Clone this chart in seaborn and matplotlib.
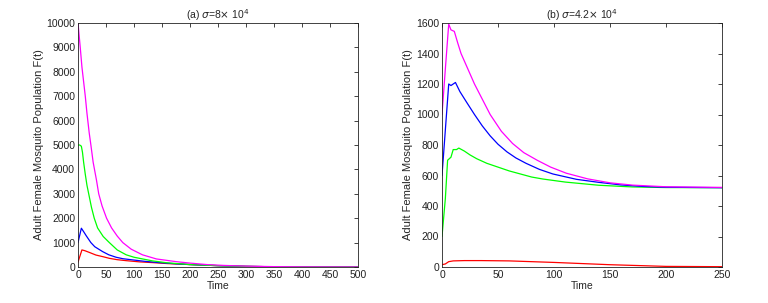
import numpy as np
import pandas as pd
import matplotlib
matplotlib.use("Agg")
import matplotlib.pyplot as plt
import seaborn as sns

sns.set_theme(style="white")
plt.rcParams['font.family'] = ['Liberation Sans', 'DejaVu Sans']
plt.rcParams['mathtext.fontset'] = 'dejavusans'

# ---- Panel (a): sigma = 8e4 ----
a_mag_t = [0, 2, 4, 7, 10, 13, 16, 20, 23, 27, 33, 37, 43, 51, 60, 70, 80, 95, 115,
           140, 175, 200, 230, 260, 300, 350, 400, 450, 500]
a_mag_y = [10000, 9500, 9000, 8200, 7600, 7000, 6300, 5500, 5000, 4300, 3560, 3000, 2500,
           2000, 1600, 1270, 1000, 730, 500, 330, 220, 160, 100, 65, 35, 15, 6, 3, 1]
a_grn_t = [0, 3, 6, 8, 10, 13, 16, 20, 24, 29, 35, 45, 56, 70, 86, 100, 133, 160, 200,
           250, 300, 350, 400, 500]
a_grn_y = [5000, 5000, 4950, 4700, 4300, 3800, 3350, 2900, 2450, 2000, 1600, 1250, 1000,
           700, 500, 400, 250, 170, 100, 55, 25, 10, 4, 1]
a_blu_t = [0, 6, 10, 15, 23, 30, 44, 55, 68, 80, 98, 120, 145, 175, 200, 250, 300, 350,
           400, 500]
a_blu_y = [1000, 1590, 1450, 1270, 1000, 830, 630, 500, 400, 340, 290, 230, 180, 130, 100,
           55, 25, 10, 4, 1]
a_red_t = [0, 7, 12, 20, 32, 45, 56, 70, 86, 110, 133, 160, 200, 250, 300, 350, 400, 500]
a_red_y = [200, 700, 670, 600, 490, 420, 355, 300, 260, 210, 180, 140, 100, 55, 25, 10, 4, 1]

# ---- Panel (b): sigma = 4.2e4 ----
b_mag_t = [0, 3, 6, 8, 11, 14, 17, 23, 29, 36, 43, 53, 63, 73, 85, 97, 111, 130, 150,
           170, 200, 250]
b_mag_y = [1000, 1300, 1593, 1555, 1545, 1470, 1400, 1300, 1200, 1100, 1000, 890, 810, 750,
           700, 655, 615, 578, 552, 537, 526, 522]
b_blu_t = [0, 3, 6, 8, 10, 12, 16, 22, 29, 36, 43, 50, 58, 66, 75, 87, 99, 120, 140, 160,
           180, 200, 250]
b_blu_y = [600, 900, 1200, 1190, 1200, 1210, 1150, 1080, 1000, 925, 860, 805, 755, 715, 680,
           640, 610, 575, 555, 538, 528, 523, 520]
b_grn_t = [0, 3, 5, 8, 10, 13, 15, 20, 25, 31, 40, 50, 60, 70, 80, 90, 110, 140, 170, 200,
           250]
b_grn_y = [200, 450, 700, 720, 770, 770, 780, 760, 735, 710, 680, 655, 630, 610, 590, 577,
           557, 536, 525, 521, 520]
b_red_t = [0, 3, 6, 10, 20, 35, 60, 100, 150, 200, 250]
b_red_y = [15, 20, 35, 40, 42, 42, 40, 30, 15, 4, 2]

colors = {'mag': '#ff00ff', 'grn': '#00ff00', 'blu': '#0000ff', 'red': '#ff0000'}

def frame(series):
    rows = []
    for name, (t, y) in series.items():
        for ti, yi in zip(t, y):
            rows.append((name, ti, yi))
    return pd.DataFrame(rows, columns=['series', 'Time', 'F'])

df_a = frame({'red': (a_red_t, a_red_y), 'blu': (a_blu_t, a_blu_y),
              'grn': (a_grn_t, a_grn_y), 'mag': (a_mag_t, a_mag_y)})
df_b = frame({'red': (b_red_t, b_red_y), 'grn': (b_grn_t, b_grn_y),
              'blu': (b_blu_t, b_blu_y), 'mag': (b_mag_t, b_mag_y)})

fig = plt.figure(figsize=(7.68, 3.03), dpi=100)
ax1 = fig.add_axes([78/768, 1-267/303, 280/768, 244/303])
ax2 = fig.add_axes([442/768, 1-267/303, 280/768, 244/303])

for ax, df, title, xmax, ymax, ystep in [
        (ax1, df_a, r'(a) $\sigma$=8$\times$ 10$^4$', 500, 10000, 1000),
        (ax2, df_b, r'(b) $\sigma$=4.2$\times$ 10$^4$', 250, 1600, 200)]:
    sns.lineplot(data=df, x='Time', y='F', hue='series', palette=colors,
                 linewidth=0.9, legend=False, ax=ax, sort=True)
    ax.set_xlim(0, xmax)
    ax.set_ylim(0, ymax)
    ax.set_xticks(np.arange(0, xmax + 1, 50))
    ax.set_yticks(np.arange(0, ymax + 1, ystep))
    ax.tick_params(direction='in', top=True, right=True, length=3, width=0.6,
                   labelsize=7.5, colors='#222222', pad=2)
    for s in ax.spines.values():
        s.set_linewidth(0.6)
        s.set_color('#222222')
    ax.set_xlabel('Time', fontsize=7.5, labelpad=1)
    ax.set_ylabel('Adult Female Mosquito Population F(t)', fontsize=8, labelpad=2)
    ax.set_title(title, fontsize=7.5, pad=3)

fig.savefig('out.png', dpi=100, facecolor='white')
